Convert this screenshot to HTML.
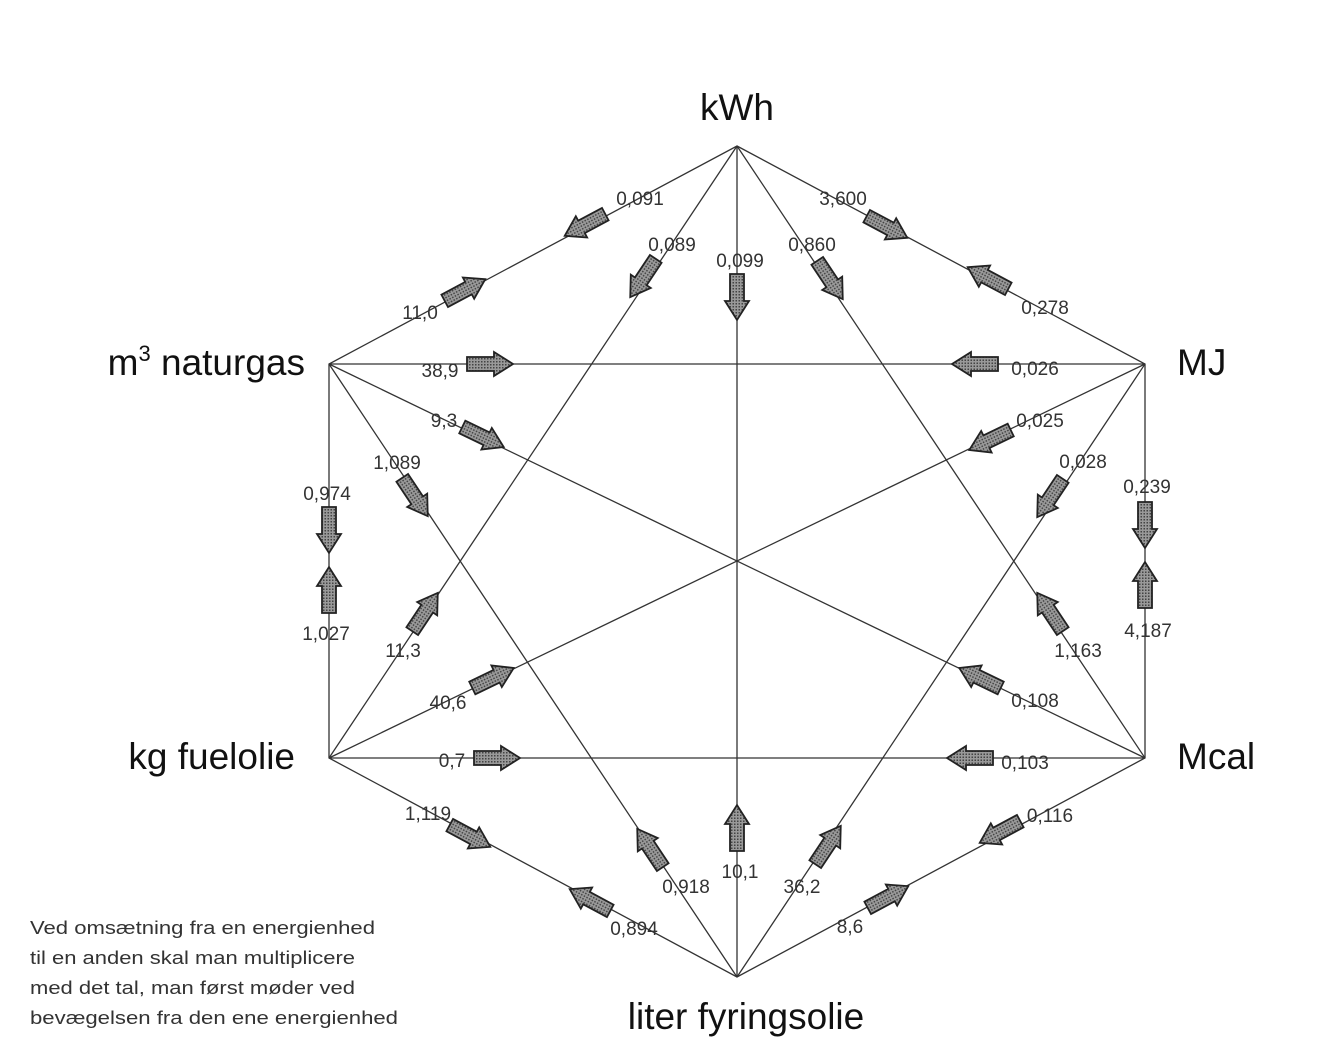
<!DOCTYPE html>
<html><head><meta charset="utf-8"><style>
html,body{margin:0;padding:0;background:#fff;}
svg{display:block;}
text{font-family:"Liberation Sans",sans-serif;}
.n{font-size:19px;fill:#333;text-anchor:middle;}
.v{font-size:37px;fill:#111;}
.f{font-size:18px;fill:#333;}
</style></head><body>
<svg width="1320" height="1060" viewBox="0 0 1320 1060">
<defs>
<pattern id="h" width="3" height="3" patternUnits="userSpaceOnUse"><rect width="3" height="3" fill="#999"/><rect width="1.5" height="1.5" fill="#444"/></pattern>
<g id="a"><polygon points="-23,-7 4,-7 4,-12 23,0 4,12 4,7 -23,7" fill="url(#h)" stroke="#222" stroke-width="1.8"/></g>
</defs>
<g stroke="#333" stroke-width="1.3" fill="none">
<polygon points="737,146 1145,364 1145,758 737,977 329,758 329,364"/>
<line x1="737" y1="146" x2="737" y2="977"/>
<line x1="737" y1="146" x2="329" y2="758"/>
<line x1="737" y1="146" x2="1145" y2="758"/>
<line x1="329" y1="364" x2="1145" y2="364"/>
<line x1="329" y1="364" x2="1145" y2="758"/>
<line x1="329" y1="364" x2="737" y2="977"/>
<line x1="1145" y1="364" x2="329" y2="758"/>
<line x1="1145" y1="364" x2="737" y2="977"/>
<line x1="329" y1="758" x2="1145" y2="758"/>
</g>
<use href="#a" transform="translate(585,225) rotate(151.9)"/>
<use href="#a" transform="translate(465,290) rotate(-28.1)"/>
<use href="#a" transform="translate(643,278) rotate(123.7)"/>
<use href="#a" transform="translate(737,297) rotate(90)"/>
<use href="#a" transform="translate(830,280) rotate(56.3)"/>
<use href="#a" transform="translate(887,227) rotate(28.1)"/>
<use href="#a" transform="translate(988,278) rotate(-151.9)"/>
<use href="#a" transform="translate(490,364) rotate(0)"/>
<use href="#a" transform="translate(975,364) rotate(180)"/>
<use href="#a" transform="translate(483,437) rotate(25.8)"/>
<use href="#a" transform="translate(990,440) rotate(154.2)"/>
<use href="#a" transform="translate(415,497) rotate(56.3)"/>
<use href="#a" transform="translate(1050,498) rotate(123.7)"/>
<use href="#a" transform="translate(329,530) rotate(90)"/>
<use href="#a" transform="translate(329,590) rotate(-90)"/>
<use href="#a" transform="translate(1145,525) rotate(90)"/>
<use href="#a" transform="translate(1145,585) rotate(-90)"/>
<use href="#a" transform="translate(425,612) rotate(-56.3)"/>
<use href="#a" transform="translate(1050,612) rotate(-123.7)"/>
<use href="#a" transform="translate(493,678) rotate(-25.8)"/>
<use href="#a" transform="translate(980,678) rotate(-154.2)"/>
<use href="#a" transform="translate(497,758) rotate(0)"/>
<use href="#a" transform="translate(970,758) rotate(180)"/>
<use href="#a" transform="translate(470,836) rotate(28.2)"/>
<use href="#a" transform="translate(1000,832) rotate(151.8)"/>
<use href="#a" transform="translate(650,848) rotate(-123.7)"/>
<use href="#a" transform="translate(737,828) rotate(-90)"/>
<use href="#a" transform="translate(828,845) rotate(-56.3)"/>
<use href="#a" transform="translate(590,900) rotate(-151.8)"/>
<use href="#a" transform="translate(888,897) rotate(-28.2)"/>
<g class="n">
<text x="640" y="205">0,091</text>
<text x="420" y="319">11,0</text>
<text x="672" y="251">0,089</text>
<text x="740" y="267">0,099</text>
<text x="812" y="251">0,860</text>
<text x="843" y="205">3,600</text>
<text x="1045" y="314">0,278</text>
<text x="440" y="377">38,9</text>
<text x="1035" y="375">0,026</text>
<text x="444" y="427">9,3</text>
<text x="1040" y="427">0,025</text>
<text x="397" y="469">1,089</text>
<text x="1083" y="468">0,028</text>
<text x="327" y="500">0,974</text>
<text x="326" y="640">1,027</text>
<text x="1147" y="493">0,239</text>
<text x="1148" y="637">4,187</text>
<text x="403" y="657">11,3</text>
<text x="1078" y="657">1,163</text>
<text x="448" y="709">40,6</text>
<text x="1035" y="707">0,108</text>
<text x="452" y="767">0,7</text>
<text x="1025" y="769">0,103</text>
<text x="428" y="820">1,119</text>
<text x="1050" y="822">0,116</text>
<text x="686" y="893">0,918</text>
<text x="740" y="878">10,1</text>
<text x="802" y="893">36,2</text>
<text x="634" y="935">0,894</text>
<text x="850" y="933">8,6</text>
</g>
<text class="v" x="737" y="120" text-anchor="middle">kWh</text>
<text class="v" x="1177" y="375">MJ</text>
<text class="v" x="1177" y="769">Mcal</text>
<text class="v" x="746" y="1029" text-anchor="middle">liter fyringsolie</text>
<text class="v" x="295" y="769" text-anchor="end">kg fuelolie</text>
<text class="v" x="305" y="375" text-anchor="end">m<tspan font-size="22" dy="-14">3</tspan><tspan dy="14"> naturgas</tspan></text>
<text class="f" x="30" y="934" textLength="345" lengthAdjust="spacingAndGlyphs">Ved omsætning fra en energienhed</text>
<text class="f" x="30" y="964" textLength="325" lengthAdjust="spacingAndGlyphs">til en anden skal man multiplicere</text>
<text class="f" x="30" y="994" textLength="325" lengthAdjust="spacingAndGlyphs">med det tal, man først møder ved</text>
<text class="f" x="30" y="1024" textLength="368" lengthAdjust="spacingAndGlyphs">bevægelsen fra den ene energienhed</text>
</svg>
</body></html>
